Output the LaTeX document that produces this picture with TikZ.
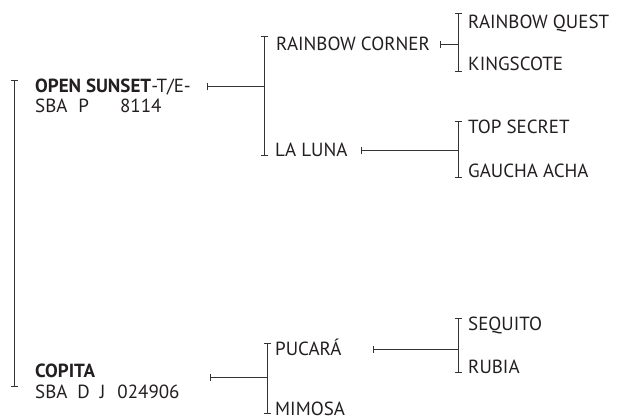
\documentclass[tikz,border=0pt]{standalone}
\usepackage{fontspec}
\setmainfont{PT Sans}
\usetikzlibrary{arrows.meta}
\definecolor{PedInk}{HTML}{231F20}
\definecolor{PedLine}{HTML}{333333}

\begin{document}
\begin{tikzpicture}[
  x=1pt, y=-1pt,
  horse/.style={anchor=base west, inner sep=0pt, text=PedInk,
                font=\fontsize{19}{22}\selectfont},
  bracket/.style={line width=1pt, color=PedLine,
                  {Bar[width=7pt]}-{Bar[width=7pt]}},
  stem/.style={line width=1pt, color=PedLine, {Bar[width=7pt]}-},
]
\useasboundingbox (0,0) rectangle (617,419);

% --- Horses ---
\node[horse] (open)     at (35,93)   {\textbf{OPEN SUNSET}-T/E-};
\node[horse] (openid)   at (35,113)  {SBA\hspace{11pt}P\hspace{31pt}8114};
\node[horse] (copita)   at (35,377)  {\textbf{COPITA}};
\node[horse] (copitaid) at (35,398)  {SBA\hspace{10pt}D\hspace{10pt}J\hspace{12pt}024906};

% Sire and dam of the first
\node[horse] (rcorner) at (276,51)  {RAINBOW CORNER};
\node[horse] (laluna)  at (275,157) {LA LUNA};
% Sire and dam of the second
\node[horse] (pucara)  at (275,355) {PUCARÁ};
\node[horse] (mimosa)  at (275,415) {MIMOSA};

% Grandparents
\node[horse] (rquest)  at (468,29)  {RAINBOW QUEST};
\node[horse] (kings)   at (468,71)  {KINGSCOTE};
\node[horse] (topsec)  at (468,134) {TOP SECRET};
\node[horse] (gaucha)  at (468,178) {GAUCHA ACHA};
\node[horse] (sequito) at (468,330) {SEQUITO};
\node[horse] (rubia)   at (468,373) {RUBIA};

% --- Brackets ---
\coordinate (b0top) at (14,80);   \coordinate (b0bot) at (14,387);
\coordinate (b1top) at (264,36);  \coordinate (b1bot) at (264,156);
\coordinate (b2top) at (458,13);  \coordinate (b2bot) at (458,72);
\coordinate (b3top) at (458,121); \coordinate (b3bot) at (458,178);
\coordinate (b4top) at (267,343); \coordinate (b4bot) at (267,414);
\coordinate (b5top) at (458,318); \coordinate (b5bot) at (458,373);
\foreach \b in {b0,b1,b2,b3,b4,b5}
  \draw[bracket] (\b top) -- (\b bot);

% --- Stems ---
\coordinate (openstem) at (207,87);
\coordinate (rcstem)   at (440,45);
\coordinate (llstem)   at (361,151);
\coordinate (cpstem)   at (210,377);
\coordinate (pustem)   at (373,349);
\draw[stem] (openstem) -- (openstem -| b1top);
\draw[stem] (rcstem)   -- (rcstem -| b2top);
\draw[stem] (llstem)   -- (llstem -| b3top);
\draw[stem] (cpstem)   -- (cpstem -| b4top);
\draw[stem] (pustem)   -- (pustem -| b5top);

\end{tikzpicture}
\end{document}
